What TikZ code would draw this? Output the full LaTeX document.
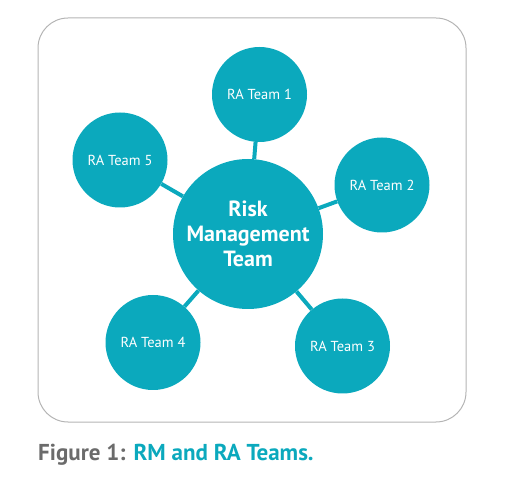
\documentclass[tikz,border=0pt]{standalone}
\usepackage{fontspec}
\setmainfont{PT Sans}
\usepackage{tikz}
\definecolor{rateal}{HTML}{0BA9BD}
\definecolor{capgray}{HTML}{6B6B6B}
\definecolor{framegray}{HTML}{B4B4B4}

\begin{document}
\begin{tikzpicture}[x=1pt,y=-1pt,
  team/.style={circle, fill=rateal, text=white, minimum size=95pt, inner sep=0pt, font=\fontsize{14.5}{18}\selectfont},
  link/.style={rateal, line width=4pt}]
\useasboundingbox (0,0) rectangle (509,494);
\draw[framegray, line width=1pt, rounded corners=30pt] (38,18) rectangle (466,422);

\node[team, minimum size=150pt, align=center, font=\bfseries\fontsize{22}{25}\selectfont] (rm) at (248,234) {Risk\\Management\\Team};
\node[team] (t1) at (259.5,94.5) {RA Team 1};
\node[team] (t2) at (382,185) {RA Team 2};
\node[team] (t3) at (342.5,346) {RA Team 3};
\node[team] (t4) at (153,342.5) {RA Team 4};
\node[team] (t5) at (120,160) {RA Team 5};

\foreach \t in {t1,t2,t3,t4,t5}
  \draw[link] (rm) -- (\t);

\node[anchor=base west, inner sep=0pt, text=capgray, font=\bfseries\fontsize{23}{26}\selectfont] (cap) at (38,460) {Figure 1:\hspace{8pt}\textcolor{rateal}{RM and RA Teams.}};
\end{tikzpicture}
\end{document}
